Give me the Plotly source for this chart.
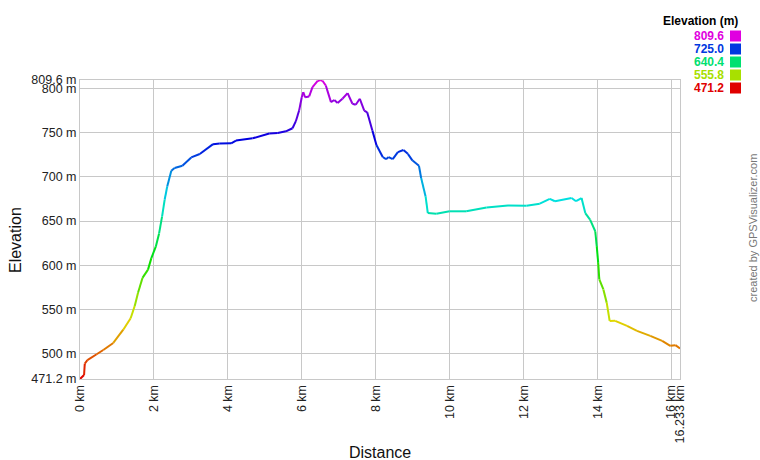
"""Elevation profile (GPSVisualizer style) — line coloured by elevation."""
import colorsys

import plotly.graph_objects as go

# distance along the track (km) and elevation (m)
dist_km = [0, 0.11, 0.13, 0.2, 0.45, 0.63, 0.9, 1.17, 1.37, 1.48,
           1.57, 1.69, 1.84, 1.93, 2.05, 2.14, 2.22, 2.29, 2.36, 2.47,
           2.56, 2.77, 3.01, 3.24, 3.6, 3.78, 4.09, 4.22, 4.67, 5.12,
           5.35, 5.57, 5.75, 5.84, 5.93, 6.0, 6.04, 6.09, 6.2, 6.29,
           6.43, 6.5, 6.56, 6.65, 6.79, 6.88, 6.97, 7.1, 7.24, 7.37,
           7.46, 7.57, 7.69, 7.77, 7.91, 8.02, 8.19, 8.28, 8.35, 8.46,
           8.6, 8.75, 8.87, 8.99, 9.17, 9.23, 9.35, 9.41, 9.64, 10.0,
           10.45, 11.0, 11.58, 12.08, 12.44, 12.71, 12.85, 13.3, 13.42, 13.57,
           13.67, 13.8, 13.94, 13.98, 14.02, 14.05, 14.16, 14.25, 14.33, 14.48,
           14.8, 15.07, 15.43, 15.75, 15.97, 16.11, 16.233]
elev_m = [471.2, 475.7, 488.6, 492.5, 499.2, 504, 512, 527, 540, 553.8,
          568.8, 585.6, 595, 608, 621, 636, 655, 674, 689, 706.8,
          710, 712.6, 722, 725.8, 737, 737.8, 738, 741, 743.6, 749,
          749.6, 751.5, 755, 763, 775.4, 790, 795.8, 790, 791, 801.5,
          808.5, 809.6, 808.8, 803.4, 784.6, 787, 783.5, 788.4, 794.7, 782.7,
          781.6, 788.4, 775, 773, 752.5, 736, 722.5, 720, 722.4, 720,
          728, 730.4, 726, 718.7, 712.6, 698.7, 677.8, 659, 658.3, 661,
          661, 665.4, 667.7, 667.3, 669.6, 675, 672.4, 676, 672.4, 676,
          659, 651.5, 638.4, 621.5, 602.7, 583.9, 572.6, 557.6, 536.9, 537,
          531.3, 525.7, 520, 514.4, 508.8, 509.5, 505.8]

x_ticks = [0, 2, 4, 6, 8, 10, 12, 14, 16, 16.233]
x_labels = ["0 km", "2 km", "4 km", "6 km", "8 km", "10 km", "12 km",
            "14 km", "16 km", "16.233 km"]
y_ticks = [471.2, 500, 550, 600, 650, 700, 750, 800, 809.6]
y_labels = ["471.2 m", "500 m", "550 m", "600 m", "650 m", "700 m",
            "750 m", "800 m", "809.6 m"]
legend_vals = [809.6, 725.0, 640.4, 555.8, 471.2]

E_MIN, E_MAX = min(elev_m), max(elev_m)
GRID = "#c8c8c8"
FONT = "Arial, Liberation Sans, sans-serif"


def elev_color(e):
    t = (e - E_MIN) / (E_MAX - E_MIN)
    r, g, b = colorsys.hsv_to_rgb(t * 300 / 360, 1.0, 0.88)
    return f"rgb({int(r * 255)},{int(g * 255)},{int(b * 255)})"


# window pixels -> paper coords of the 600x299 plot area at (80, 80)
def px(x):
    return (x - 80) / 600


def py(y):
    return (379 - y) / 299


fig = go.Figure()
for i in range(len(dist_km) - 1):
    fig.add_trace(go.Scatter(
        x=dist_km[i:i + 2], y=elev_m[i:i + 2], mode="lines",
        line=dict(color=elev_color((elev_m[i] + elev_m[i + 1]) / 2), width=2),
        hoverinfo="skip", showlegend=False))

ann = [
    dict(text="Elevation", x=px(15), y=py(240), textangle=-90,
         font=dict(size=16, color="#111")),
    dict(text="Distance", x=px(380), y=py(452),
         font=dict(size=16, color="#111")),
    dict(text="created by GPSVisualizer.com", x=px(753), y=py(228), textangle=-90,
         font=dict(size=11, color="#777")),
    dict(text="<b>Elevation (m)</b>", x=px(740), y=py(21), xanchor="right",
         font=dict(size=12, color="#000")),
]
shapes = []
for k, v in enumerate(legend_vals):
    yc = 36 + 13 * k
    c = elev_color(v)
    ann.append(dict(text=f"<b>{v:.1f}</b>", x=px(726), y=py(yc), xanchor="right",
                    font=dict(size=12, color=c)))
    shapes.append(dict(type="rect", xref="paper", yref="paper",
                       x0=px(730), x1=px(741), y0=py(yc + 5.5), y1=py(yc - 5.5),
                       fillcolor=c, line=dict(width=0)))
for a in ann:
    a.setdefault("xanchor", "center")
    a.update(xref="paper", yref="paper", yanchor="middle", showarrow=False)

fig.update_layout(
    width=760, height=460, autosize=False,
    margin=dict(l=80, r=80, t=80, b=81),
    paper_bgcolor="white", plot_bgcolor="white",
    font=dict(family=FONT, size=12.5, color="#222"),
    annotations=ann, shapes=shapes,
    xaxis=dict(range=[0, 16.233], tickvals=x_ticks, ticktext=x_labels,
               tickangle=-90, showgrid=True, gridcolor=GRID, gridwidth=1,
               showline=True, linecolor=GRID, mirror=True, zeroline=False,
               ticks="", automargin=False),
    yaxis=dict(range=[E_MIN, E_MAX], tickvals=y_ticks, ticktext=y_labels,
               showgrid=True, gridcolor=GRID, gridwidth=1,
               showline=True, linecolor=GRID, mirror=True, zeroline=False,
               ticks="", automargin=False),
)

# drop the browser's default 8px body margin so the 760x460 figure fills the window
fig.write_html("out.html", config={"displayModeBar": False},
               post_script="document.body.style.margin='0';"
                           "document.body.style.overflow='hidden';")
